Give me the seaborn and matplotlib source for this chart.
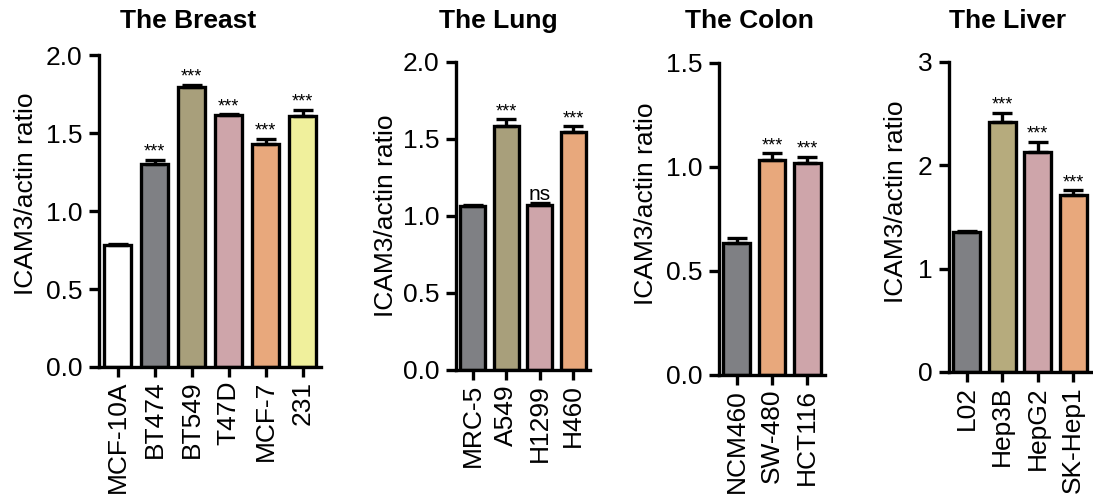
import matplotlib
matplotlib.use("Agg")
import matplotlib.pyplot as plt
import seaborn as sns
import pandas as pd
import numpy as np

# ICAM3 expression (ICAM3/actin ratio), mean and SEM per cell line
breast_lines = ["MCF-10A", "BT474", "BT549", "T47D", "MCF-7", "231"]
breast_ratio = [0.78, 1.30, 1.795, 1.615, 1.43, 1.61]
breast_sem = [0.01, 0.03, 0.015, 0.005, 0.035, 0.04]
breast_sig = ["", "***", "***", "***", "***", "***"]

lung_lines = ["MRC-5", "A549", "H1299", "H460"]
lung_ratio = [1.065, 1.585, 1.07, 1.545]
lung_sem = [0.005, 0.045, 0.015, 0.04]
lung_sig = ["", "***", "ns", "***"]

colon_lines = ["NCM460", "SW-480", "HCT116"]
colon_ratio = [0.635, 1.035, 1.02]
colon_sem = [0.025, 0.03, 0.03]
colon_sig = ["", "***", "***"]

liver_lines = ["L02", "Hep3B", "HepG2", "SK-Hep1"]
liver_ratio = [1.355, 2.42, 2.13, 1.71]
liver_sem = [0.01, 0.09, 0.1, 0.05]
liver_sig = ["", "***", "***", "***"]

WHITE = "#ffffff"
GRAY = "#7f8084"
OLIVE = "#a89f7b"
PINK = "#cea5aa"
ORANGE = "#e8a87c"
YELLOW = "#f0f09c"
KHAKI = "#b6ab7d"

panels = [
    dict(title="The Breast", lines=breast_lines, vals=breast_ratio, sem=breast_sem,
         sig=breast_sig, colors=[WHITE, GRAY, OLIVE, PINK, ORANGE, YELLOW],
         ymax=2.0, ticks=[0.0, 0.5, 1.0, 1.5, 2.0], fmt="{:.1f}",
         rect=[0.0906, 0.2675, 0.2031, 0.6225], title_x=0.40,
         ylab=(-0.275, 0.555)),
    dict(title="The Lung", lines=lung_lines, vals=lung_ratio, sem=lung_sem,
         sig=lung_sig, colors=[GRAY, OLIVE, PINK, ORANGE],
         ymax=2.0, ticks=[0.0, 0.5, 1.0, 1.5, 2.0], fmt="{:.1f}",
         rect=[0.4172, 0.2615, 0.1226, 0.6148], title_x=0.313,
         ylab=(-0.433, 0.5)),
    dict(title="The Colon", lines=colon_lines, vals=colon_ratio, sem=colon_sem,
         sig=colon_sig, colors=[GRAY, ORANGE, PINK],
         ymax=1.5, ticks=[0.0, 0.5, 1.0, 1.5], fmt="{:.1f}",
         rect=[0.6578, 0.2515, 0.0970, 0.6228], title_x=0.29,
         ylab=(-0.575, 0.548)),
    dict(title="The Liver", lines=liver_lines, vals=liver_ratio, sem=liver_sem,
         sig=liver_sig, colors=[GRAY, KHAKI, PINK, ORANGE],
         ymax=3.0, ticks=[0, 1, 2, 3], fmt="{:.0f}",
         rect=[0.8683, 0.2575, 0.1299, 0.6188], title_x=0.415,
         ylab=(-0.289, 0.548)),
]

sns.set_theme(style="ticks")
plt.rcParams["font.family"] = ["Liberation Sans", "DejaVu Sans"]

LW = 2.4
fig = plt.figure(figsize=(10.93, 5.01), dpi=100)

for p in panels:
    ax = fig.add_axes(p["rect"])
    n = len(p["lines"])
    df = pd.DataFrame({"line": p["lines"], "ratio": p["vals"]})
    sns.barplot(data=df, x="line", y="ratio", hue="line", palette=p["colors"],
                saturation=1, legend=False, width=0.75, edgecolor="black",
                linewidth=LW, errorbar=None, ax=ax, zorder=2)
    xs = np.arange(n)
    ax.errorbar(xs, p["vals"], yerr=[np.zeros(n), p["sem"]], fmt="none",
                ecolor="black", elinewidth=LW, capsize=7, capthick=LW, zorder=3)
    for i, (v, e, s) in enumerate(zip(p["vals"], p["sem"], p["sig"])):
        if s:
            fs = 15 if s == "ns" else 13
            ax.annotate(s, (i, v + e), xytext=(0, 2), textcoords="offset points",
                        ha="center", va="baseline", fontsize=fs, color="black")

    ax.set_xlim(-0.5, n - 0.5)
    ax.set_ylim(0, p["ymax"])
    ax.set_yticks(p["ticks"])
    ax.set_yticklabels([p["fmt"].format(t) for t in p["ticks"]])
    ax.set_xlabel("")
    ax.set_ylabel("ICAM3/actin ratio", fontsize=19, color="black")
    ax.yaxis.set_label_coords(*p["ylab"])
    ax.tick_params(axis="both", width=LW, length=7, labelsize=19, colors="black",
                   direction="out", pad=5)
    ax.tick_params(axis="x", rotation=90, pad=3)
    sns.despine(ax=ax)
    for side in ("left", "bottom"):
        ax.spines[side].set_linewidth(LW)
        ax.spines[side].set_color("black")

    l, b, w, h = p["rect"]
    fig.text(l + p["title_x"] * w, 0.944, p["title"], ha="center", va="baseline",
             fontsize=19, fontweight="bold", color="black")

fig.savefig("out.png", dpi=100)
